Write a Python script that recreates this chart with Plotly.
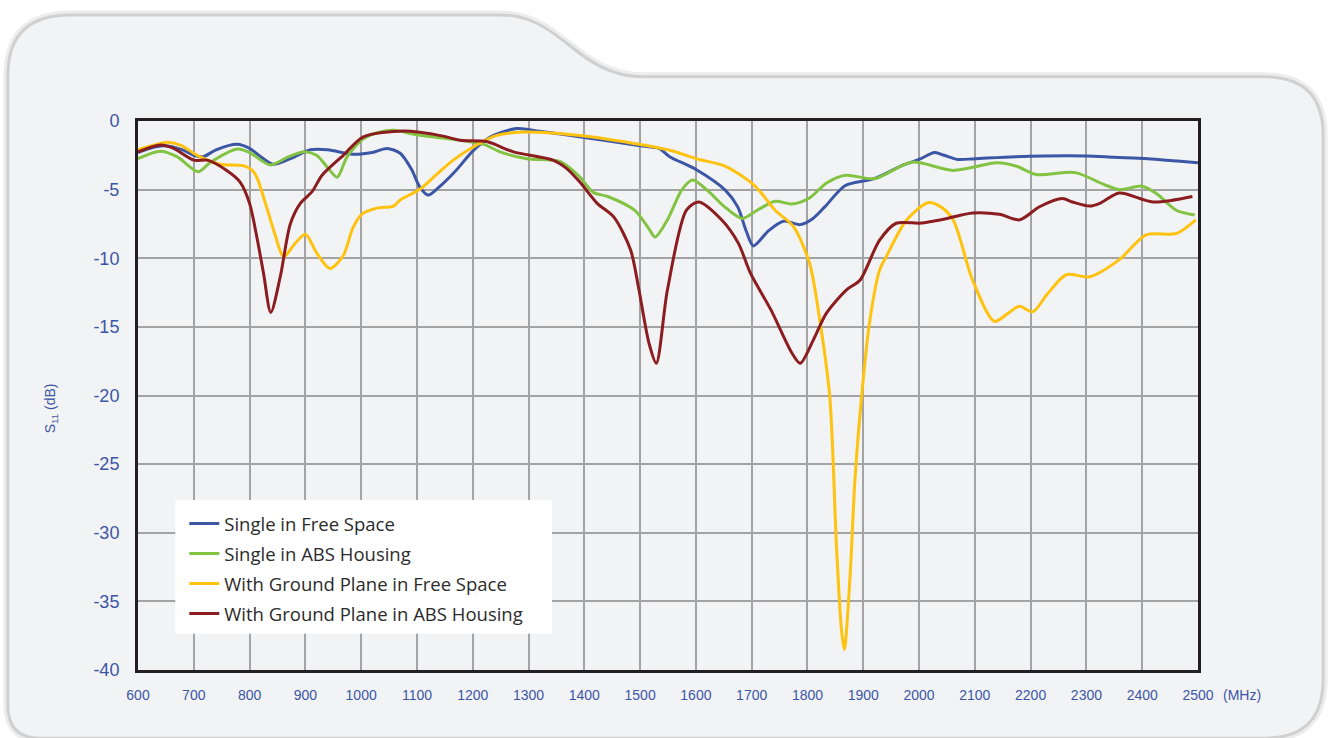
import plotly.graph_objects as go

# ---------------- data ----------------
blue_f = [600, 620, 646, 680, 700, 717, 740, 778, 800, 820, 842, 870, 909, 940, 980, 1000, 1020, 1046, 1070,
          1090, 1105, 1120, 1140, 1170, 1200, 1230, 1279, 1320, 1400, 1500, 1534, 1553, 1601, 1653, 1675, 1690,
          1703, 1730, 1757, 1787, 1810, 1831, 1868, 1920, 1972, 2000, 2028, 2045, 2069, 2100, 2173, 2300, 2350,
          2410, 2500]
blue_db = [-2.3, -2.0, -1.8, -2.1, -2.5, -2.6, -2.1, -1.7, -2.0, -2.6, -3.15, -2.8, -2.1, -2.1, -2.4, -2.4, -2.3,
           -2.0, -2.35, -3.5, -4.8, -5.4, -4.8, -3.6, -2.2, -1.2, -0.55, -0.75, -1.2, -1.8, -2.0, -2.6, -3.55,
           -5.05, -6.26, -8.0, -9.1, -8.0, -7.3, -7.55, -7.1, -6.26, -4.7, -4.2, -3.2, -2.8, -2.3, -2.5, -2.8,
           -2.75, -2.6, -2.55, -2.65, -2.75, -3.05]

green_f = [600, 640, 670, 708, 730, 777, 800, 837, 870, 896, 920, 940, 957, 975, 1004, 1034, 1058, 1100, 1177,
           1220, 1249, 1297, 1356, 1390, 1416, 1442, 1490, 1515, 1527, 1549, 1575, 1594, 1623, 1650, 1683, 1710,
           1742, 1772, 1802, 1835, 1868, 1920, 1987, 2061, 2140, 2175, 2210, 2280, 2330, 2359, 2400, 2426, 2461,
           2494]
green_db = [-2.75, -2.2, -2.6, -3.7, -3.0, -2.05, -2.3, -3.2, -2.6, -2.25, -2.5, -3.4, -4.1, -2.6, -1.3, -0.8,
            -0.68, -1.0, -1.4, -1.7, -2.25, -2.75, -2.95, -4.0, -5.2, -5.5, -6.5, -7.8, -8.45, -7.2, -5.0, -4.3,
            -5.15, -6.2, -7.1, -6.5, -5.85, -6.05, -5.65, -4.5, -3.95, -4.2, -3.0, -3.6, -3.05, -3.3, -3.9, -3.76,
            -4.6, -5.0, -4.75, -5.3, -6.5, -6.85]

yellow_f = [600, 625, 652, 676, 706, 747, 789, 805, 813, 830, 845, 861, 880, 900, 920, 944, 968, 985, 1001, 1028,
            1058, 1070, 1106, 1135, 1165, 1207, 1243, 1291, 1392, 1506, 1560, 1601, 1653, 1705, 1742, 1775, 1804,
            1822, 1840, 1852, 1861, 1866, 1876, 1885, 1897, 1911, 1929, 1941, 1977, 2016, 2037, 2061, 2096, 2135,
            2160, 2180, 2204, 2230, 2264, 2306, 2359, 2407, 2461, 2496]
yellow_db = [-2.1, -1.8, -1.55, -1.75, -2.5, -3.15, -3.25, -3.6, -4.1, -6.2, -8.2, -9.9, -9.0, -8.25, -9.6,
             -10.75, -9.8, -7.8, -6.8, -6.35, -6.2, -5.75, -4.95, -3.9, -2.85, -1.75, -1.05, -0.8, -1.05, -1.75,
             -2.2, -2.75, -3.3, -4.7, -6.5, -7.7, -10.4, -14.5, -20.1, -31.0, -37.1, -38.5, -33.4, -26.2, -20.1,
             -14.75, -10.9, -9.9, -7.25, -5.95, -6.2, -7.2, -11.6, -14.6, -14.0, -13.5, -13.9, -12.6, -11.2,
             -11.35, -10.1, -8.3, -8.2, -7.2]

maroon_f = [600, 640, 664, 700, 724, 759, 783, 800, 813, 825, 838, 855, 873, 891, 912, 930, 968, 1004, 1076,
            1147, 1177, 1225, 1273, 1344, 1368, 1392, 1423, 1453, 1483, 1497, 1516, 1529, 1549, 1583, 1605, 1646,
            1676, 1698, 1735, 1772, 1787, 1810, 1834, 1870, 1894, 1929, 1959, 2001, 2025, 2050, 2096, 2144, 2180,
            2216, 2257, 2275, 2306, 2324, 2359, 2419, 2490]
maroon_db = [-2.25, -1.75, -2.0, -2.85, -2.85, -3.6, -4.45, -6.0, -8.45, -11.1, -13.95, -11.35, -7.5, -6.0,
             -5.15, -3.95, -2.5, -1.15, -0.73, -1.1, -1.4, -1.5, -2.25, -2.85, -3.45, -4.45, -6.0, -7.0, -9.4,
             -12.1, -16.2, -17.65, -12.3, -6.5, -5.9, -7.2, -8.9, -11.1, -13.8, -16.9, -17.65, -16.0, -14.0,
             -12.3, -11.6, -8.7, -7.45, -7.45, -7.3, -7.1, -6.7, -6.8, -7.2, -6.25, -5.65, -5.9, -6.2, -6.0,
             -5.25, -5.9, -5.5]

series_names = ["Single in Free Space", "Single in ABS Housing",
                "With Ground Plane in Free Space", "With Ground Plane in ABS Housing"]
series_colors = ["#3c56a6", "#82c341", "#fec20f", "#8b1c1f"]

x_ticks = list(range(600, 2501, 100))
y_ticks = list(range(0, -41, -5))

# ---------------- layout geometry (pixels) ----------------
FIG_W, FIG_H = 1333, 738
L, R, T, B = 137.7, 1198.3, 120.7, 670.3
PW, PH = R - L, B - T


def px(x):
    return (x - L) / PW


def py(y):
    return 1 - (y - T) / PH


def path(cmds):
    out = []
    for c in cmds:
        op, pts = c[0], c[1:]
        coords = " ".join(f"{px(pts[i]):.5f},{py(pts[i + 1]):.5f}" for i in range(0, len(pts), 2))
        out.append(op + coords)
    return " ".join(out) + " Z"


panel = path([
    ("M", 9, 700), ("L", 9, 75), ("Q", 9, 16, 70, 16), ("L", 500, 16),
    ("C", 562, 16, 575, 78, 645, 78), ("L", 1265, 78), ("Q", 1322, 78, 1322, 135),
    ("L", 1322, 680), ("Q", 1322, 737, 1265, 737), ("L", 40, 737), ("Q", 9, 737, 9, 706),
])

shapes = [
    dict(type="path", path=panel, xref="paper", yref="paper", layer="below",
         line=dict(color="rgba(0,0,0,0.07)", width=12), fillcolor="rgba(0,0,0,0)"),
    dict(type="path", path=panel, xref="paper", yref="paper", layer="below",
         line=dict(color="rgba(0,0,0,0.12)", width=6), fillcolor="rgba(0,0,0,0)"),
    dict(type="path", path=panel, xref="paper", yref="paper", layer="below",
         line=dict(width=0), fillcolor="#f2f3f5"),
]

fig = go.Figure()
for f, d, n, c in zip([blue_f, green_f, yellow_f, maroon_f], [blue_db, green_db, yellow_db, maroon_db],
                      series_names, series_colors):
    fig.add_trace(go.Scatter(x=f, y=d, name=n, mode="lines", legendgroup=n,
                             line=dict(color=c, width=3, shape="spline", smoothing=0.8)))

# white legend box
shapes.append(dict(type="rect", xref="paper", yref="paper", layer="above",
                   x0=px(175), x1=px(552), y0=py(634), y1=py(500),
                   fillcolor="white", line=dict(width=0)))

tick_font = dict(family="Liberation Sans, Arial, sans-serif", color="#3c56a6")

fig.update_layout(
    width=FIG_W, height=FIG_H,
    margin=dict(l=L, r=FIG_W - R, t=T, b=FIG_H - B, pad=0),
    paper_bgcolor="white", plot_bgcolor="rgba(0,0,0,0)",
    shapes=shapes,
    showlegend=True,
    legend=dict(x=px(184), y=py(505), xanchor="left", yanchor="top",
                bgcolor="rgba(0,0,0,0)", borderwidth=0, itemwidth=30, tracegroupgap=3,
                font=dict(family="Open Sans, Roboto, sans-serif", size=18.5, color="#2b2b2b")),
    xaxis=dict(range=[600, 2500], tickvals=x_ticks, ticktext=[str(v) for v in x_ticks],
               showgrid=True, gridcolor="#a3a3a3", gridwidth=1.5, zeroline=False,
               showline=True, linecolor="#231f20", linewidth=3, mirror=True,
               ticks="outside", ticklen=10, tickcolor="rgba(0,0,0,0)",
               tickfont=dict(size=14, **tick_font)),
    yaxis=dict(range=[-40, 0], tickvals=y_ticks, ticktext=[str(v) for v in y_ticks],
               showgrid=True, gridcolor="#a3a3a3", gridwidth=1.5, zeroline=False,
               showline=True, linecolor="#231f20", linewidth=3, mirror=True,
               ticks="outside", ticklen=12, tickcolor="rgba(0,0,0,0)",
               tickfont=dict(size=18, **tick_font)),
    annotations=[
        dict(text="(MHz)", xref="paper", yref="paper", x=px(1221), y=py(695), xanchor="left", yanchor="middle",
             showarrow=False, font=dict(size=14, **tick_font)),
        dict(text="S<sub>11</sub> (dB)", xref="paper", yref="paper", x=px(51), y=py(408), xanchor="center",
             yanchor="middle", textangle=-90, showarrow=False, font=dict(size=14, **tick_font)),
    ],
)

fig.write_html("out.html", config={"displayModeBar": False},
               post_script="document.body.style.margin='0';document.body.style.overflow='hidden';")
